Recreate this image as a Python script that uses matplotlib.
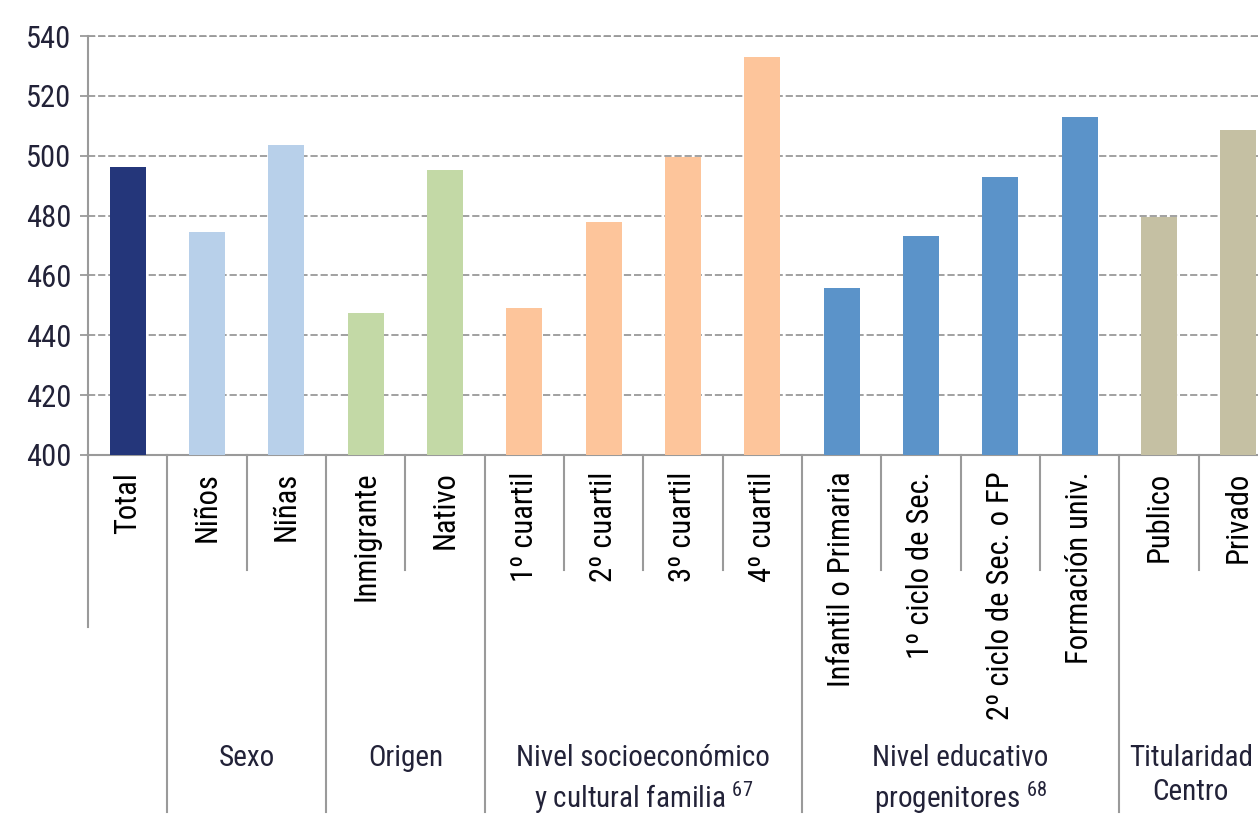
import matplotlib
matplotlib.use('Agg')
import matplotlib.pyplot as plt
import matplotlib.transforms as mtransforms
from matplotlib import font_manager
import numpy as np

# data
categories = ['Total', 'Niños', 'Niñas', 'Inmigrante', 'Nativo',
              '1º cuartil', '2º cuartil', '3º cuartil', '4º cuartil',
              'Infantil o Primaria', '1º ciclo de Sec.', '2º ciclo de Sec. o FP',
              'Formación univ.', 'Publico', 'Privado']
scores = [496.3, 474.5, 503.6, 447.6, 495.3,
          449.2, 477.8, 499.6, 533.0,
          455.8, 473.2, 492.9, 512.9,
          479.6, 508.6]
bar_colors = ['#24367a', '#b8d0ea', '#b8d0ea', '#c3d9a6', '#c3d9a6',
              '#fdc59b', '#fdc59b', '#fdc59b', '#fdc59b',
              '#5b93c9', '#5b93c9', '#5b93c9', '#5b93c9',
              '#c5c0a3', '#c5c0a3']
groups = ['Sexo', 'Origen', 'Nivel socioeconómico\ny cultural familia $^{67}$',
          'Nivel educativo\nprogenitores $^{68}$', 'Titularidad\nCentro']
group_first = [1, 3, 5, 9, 13]
group_last = [2, 4, 8, 12, 14]
yticks = [400, 420, 440, 460, 480, 500, 520, 540]

# pick a narrow font if there is one
fonts = font_manager.fontManager.ttflist
names = {f.name for f in fonts}
if 'Liberation Sans Narrow' in names:
    fam, stretch, scale = 'Liberation Sans Narrow', 'normal', 1.0
elif 'Roboto Condensed' in names:
    fam, stretch, scale = 'Roboto Condensed', 'normal', 1.0
elif any(f.name == 'DejaVu Sans' and f.stretch == 'condensed' for f in fonts):
    fam, stretch, scale = 'DejaVu Sans', 'condensed', 0.9
else:
    fam, stretch, scale = 'DejaVu Sans', 'normal', 0.78

plt.rcParams['font.family'] = [fam, 'DejaVu Sans']
plt.rcParams['font.stretch'] = stretch
plt.rcParams['mathtext.default'] = 'regular'
text_col = '#222238'
line_col = '#9a9a9a'

W, H = 1258, 815
fig = plt.figure(figsize=(W / 100, H / 100), dpi=100)
ax = fig.add_axes([88 / W, 1 - 455 / H, 1190 / W, 419 / H])

x = np.arange(len(categories))
ax.bar(x, scores, width=0.45, color=bar_colors, zorder=3)
ax.set_xlim(-0.5, len(categories) - 0.5)
ax.set_ylim(400, 540)
ax.set_yticks(yticks)
ax.yaxis.grid(True, color=line_col, linestyle=(0, (4, 1.6)), linewidth=1.3, zorder=1)
ax.tick_params(axis='y', length=6, width=1.3, color=line_col, labelsize=22 * scale,
               labelcolor=text_col, pad=6)
ax.set_xticks(x)
ax.set_xticklabels(categories, rotation=90, va='top', ha='center', fontsize=22 * scale)
ax.tick_params(axis='x', length=0, pad=12, labelcolor='black')

for s in ['top', 'right']:
    ax.spines[s].set_visible(False)
for s in ['left', 'bottom']:
    ax.spines[s].set_color(line_col)
    ax.spines[s].set_linewidth(1.5)
ax.axhline(540, color=line_col, linestyle=(0, (4, 1.6)), linewidth=1.3, zorder=1, clip_on=False)

trans = mtransforms.blended_transform_factory(ax.transData, ax.transAxes)
# separators below the axis
ax.plot([-0.5, -0.5], [0, -0.41], color=line_col, lw=1.5, transform=trans, clip_on=False)
for first, last in zip(group_first, group_last):
    ax.plot([first - 0.5, first - 0.5], [0, -0.852], color=line_col, lw=1.5,
            transform=trans, clip_on=False)
    for k in range(first + 1, last + 1):
        ax.plot([k - 0.5, k - 0.5], [0, -0.274], color=line_col, lw=1.5,
                transform=trans, clip_on=False)

for name, first, last in zip(groups, group_first, group_last):
    cx = (first + last) / 2
    if cx > 13:
        cx = 13.4  # keep the last label inside the cropped picture
    ax.text(cx, -0.69, name, transform=trans, ha='center', va='top',
            fontsize=21 * scale, color=text_col, linespacing=1.25)

fig.savefig('out.png', dpi=100)
